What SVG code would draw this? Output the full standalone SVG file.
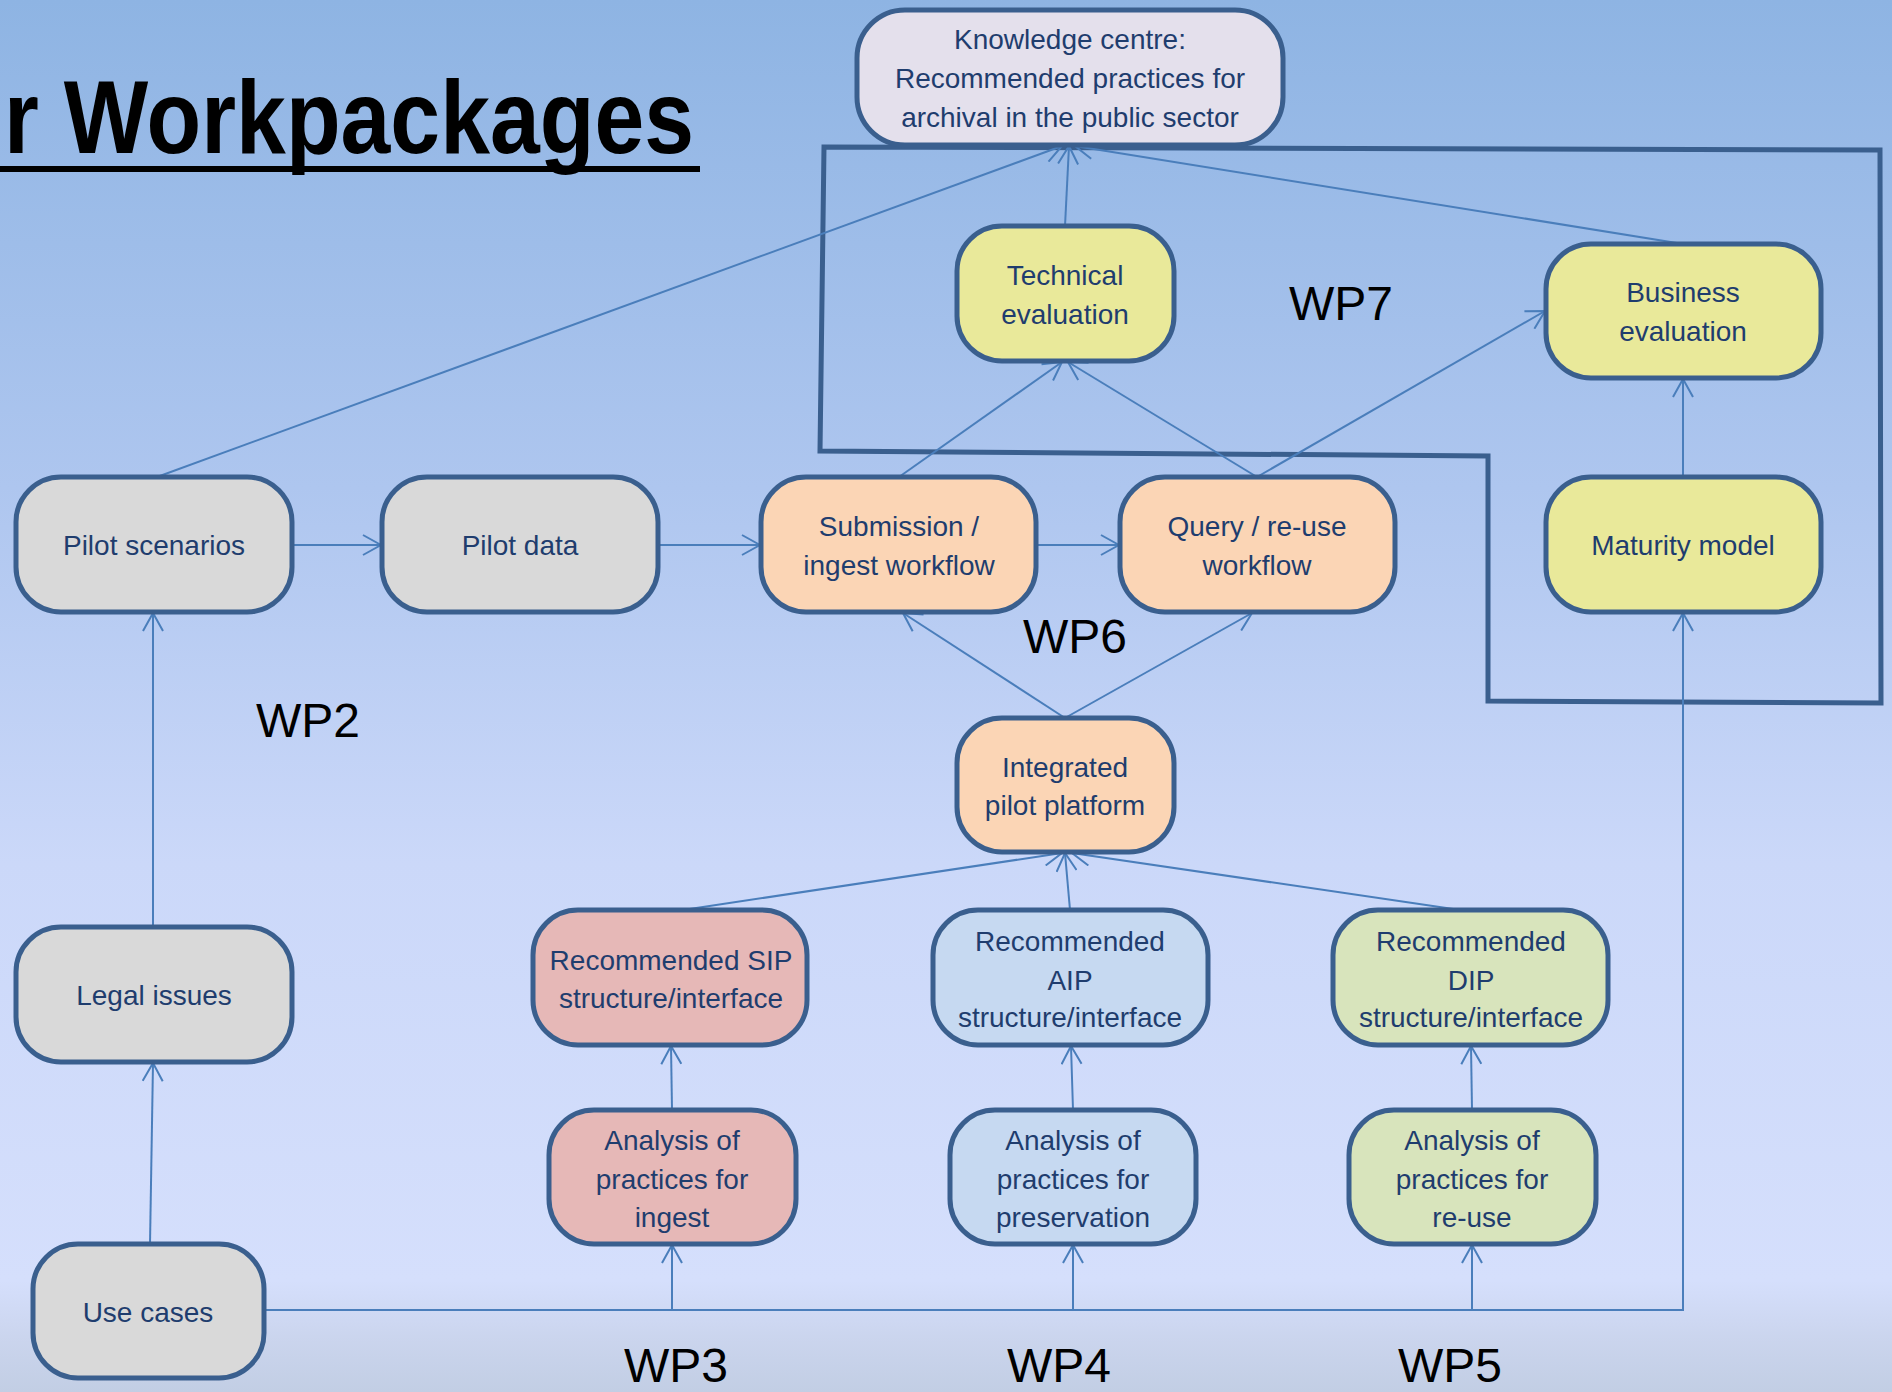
<svg xmlns="http://www.w3.org/2000/svg" width="1892" height="1392" viewBox="0 0 1892 1392">
<defs>
<linearGradient id="bg" x1="0" y1="0" x2="0" y2="1">
<stop offset="0" stop-color="#8eb4e3"/>
<stop offset="0.35" stop-color="#aec6ef"/>
<stop offset="0.62" stop-color="#cbd8f9"/>
<stop offset="0.92" stop-color="#d5dffc"/>
<stop offset="0.96" stop-color="#cbd5ee"/>
<stop offset="1" stop-color="#c2cee4"/>
</linearGradient>
<marker id="arr" markerUnits="userSpaceOnUse" viewBox="0 0 20 22" markerWidth="20" markerHeight="22" refX="19" refY="11" orient="auto">
<path d="M1,1 L19,11 L1,21" fill="none" stroke="#4a7ebb" stroke-width="2"/>
</marker>
</defs>
<style>
.n{stroke:#3a5f8e;stroke-width:5}
.t{font-family:"Liberation Sans",Arial,sans-serif;font-size:28px;fill:#1f3d6e;text-anchor:middle}
.wp{font-family:"Liberation Sans",Arial,sans-serif;font-size:48px;fill:#000}
.c{stroke:#4a7ebb;stroke-width:2;fill:none}
.gray{fill:#d9d9d9}.lav{fill:#e4e0ec}.yel{fill:#e9e99a}.org{fill:#fbd5b5}.red{fill:#e6b8b7}.blu{fill:#c6d9f1}.grn{fill:#d8e4bc}
</style>
<rect x="0" y="0" width="1892" height="1392" fill="url(#bg)"/>
<g id="title">
<text x="4" y="153" font-family="Liberation Sans,Arial,sans-serif" font-weight="bold" font-size="104" fill="#000" textLength="690" lengthAdjust="spacingAndGlyphs">r Workpackages</text>
<rect x="0" y="166" width="700" height="6" fill="#000"/>
</g>
<g id="wp7box">
<path d="M824,147 L1880,150 L1881,703 L1488,701 L1488,456 L820,451 Z" fill="none" stroke="#3a5f8e" stroke-width="5" stroke-linejoin="miter"/>
</g>
<g id="connectors">
<line class="c" x1="157" y1="477" x2="1062" y2="146" marker-end="url(#arr)"/>
<line class="c" x1="1065" y1="226" x2="1069" y2="146" marker-end="url(#arr)"/>
<line class="c" x1="1683" y1="244" x2="1075" y2="146" marker-end="url(#arr)"/>
<line class="c" x1="899" y1="477" x2="1062" y2="362" marker-end="url(#arr)"/>
<line class="c" x1="1257" y1="477" x2="1068" y2="362" marker-end="url(#arr)"/>
<line class="c" x1="1257" y1="477" x2="1545" y2="311" marker-end="url(#arr)"/>
<line class="c" x1="1683" y1="477" x2="1683" y2="379" marker-end="url(#arr)"/>
<line class="c" x1="292" y1="545" x2="381" y2="545" marker-end="url(#arr)"/>
<line class="c" x1="658" y1="545" x2="760" y2="545" marker-end="url(#arr)"/>
<line class="c" x1="1036" y1="545" x2="1119" y2="545" marker-end="url(#arr)"/>
<line class="c" x1="1065" y1="718" x2="903" y2="613" marker-end="url(#arr)"/>
<line class="c" x1="1065" y1="718" x2="1252" y2="613" marker-end="url(#arr)"/>
<line class="c" x1="683" y1="910" x2="1062" y2="853" marker-end="url(#arr)"/>
<line class="c" x1="1070" y1="910" x2="1065" y2="853" marker-end="url(#arr)"/>
<line class="c" x1="1460" y1="910" x2="1072" y2="853" marker-end="url(#arr)"/>
<line class="c" x1="672" y1="1110" x2="671" y2="1046" marker-end="url(#arr)"/>
<line class="c" x1="1073" y1="1110" x2="1071" y2="1046" marker-end="url(#arr)"/>
<line class="c" x1="1472" y1="1110" x2="1471" y2="1046" marker-end="url(#arr)"/>
<line class="c" x1="150" y1="1244" x2="153" y2="1063" marker-end="url(#arr)"/>
<line class="c" x1="153" y1="927" x2="153" y2="613" marker-end="url(#arr)"/>
<path class="c" d="M264,1310 L1683,1310 L1683,613" marker-end="url(#arr)"/>
<line class="c" x1="672" y1="1310" x2="672" y2="1245" marker-end="url(#arr)"/>
<line class="c" x1="1073" y1="1310" x2="1073" y2="1245" marker-end="url(#arr)"/>
<line class="c" x1="1472" y1="1310" x2="1472" y2="1245" marker-end="url(#arr)"/>
</g>
<g id="knowledge">
<rect class="n lav" x="857" y="10" width="426" height="135" rx="48"/>
<text class="t" x="1070" y="49">Knowledge centre:</text>
<text class="t" x="1070" y="88">Recommended practices for</text>
<text class="t" x="1070" y="127">archival in the public sector</text>
</g>
<g id="technical">
<rect class="n yel" x="957" y="226" width="217" height="135" rx="45"/>
<text class="t" x="1065" y="285">Technical</text>
<text class="t" x="1065" y="324">evaluation</text>
</g>
<g id="business">
<rect class="n yel" x="1546" y="244" width="275" height="134" rx="45"/>
<text class="t" x="1683" y="302">Business</text>
<text class="t" x="1683" y="341">evaluation</text>
</g>
<g id="pilotscenarios">
<rect class="n gray" x="16" y="477" width="276" height="135" rx="45"/>
<text class="t" x="154" y="555">Pilot scenarios</text>
</g>
<g id="pilotdata">
<rect class="n gray" x="382" y="477" width="276" height="135" rx="45"/>
<text class="t" x="520" y="555">Pilot data</text>
</g>
<g id="submission">
<rect class="n org" x="761" y="477" width="275" height="135" rx="45"/>
<text class="t" x="899" y="536">Submission /</text>
<text class="t" x="899" y="575">ingest workflow</text>
</g>
<g id="query">
<rect class="n org" x="1120" y="477" width="275" height="135" rx="45"/>
<text class="t" x="1257" y="536">Query / re-use</text>
<text class="t" x="1257" y="575">workflow</text>
</g>
<g id="maturity">
<rect class="n yel" x="1546" y="477" width="275" height="135" rx="45"/>
<text class="t" x="1683" y="555">Maturity model</text>
</g>
<g id="integrated">
<rect class="n org" x="957" y="718" width="217" height="134" rx="45"/>
<text class="t" x="1065" y="777">Integrated</text>
<text class="t" x="1065" y="815">pilot platform</text>
</g>
<g id="legal">
<rect class="n gray" x="16" y="927" width="276" height="135" rx="45"/>
<text class="t" x="154" y="1005">Legal issues</text>
</g>
<g id="sip">
<rect class="n red" x="533" y="910" width="274" height="135" rx="45"/>
<text class="t" x="671" y="970">Recommended SIP</text>
<text class="t" x="671" y="1008">structure/interface</text>
</g>
<g id="aip">
<rect class="n blu" x="933" y="910" width="275" height="135" rx="45"/>
<text class="t" x="1070" y="951">Recommended</text>
<text class="t" x="1070" y="990">AIP</text>
<text class="t" x="1070" y="1027">structure/interface</text>
</g>
<g id="dip">
<rect class="n grn" x="1333" y="910" width="275" height="135" rx="45"/>
<text class="t" x="1471" y="951">Recommended</text>
<text class="t" x="1471" y="990">DIP</text>
<text class="t" x="1471" y="1027">structure/interface</text>
</g>
<g id="ana-ingest">
<rect class="n red" x="549" y="1110" width="247" height="134" rx="45"/>
<text class="t" x="672" y="1150">Analysis of</text>
<text class="t" x="672" y="1189">practices for</text>
<text class="t" x="672" y="1227">ingest</text>
</g>
<g id="ana-pres">
<rect class="n blu" x="950" y="1110" width="246" height="134" rx="45"/>
<text class="t" x="1073" y="1150">Analysis of</text>
<text class="t" x="1073" y="1189">practices for</text>
<text class="t" x="1073" y="1227">preservation</text>
</g>
<g id="ana-reuse">
<rect class="n grn" x="1349" y="1110" width="247" height="134" rx="45"/>
<text class="t" x="1472" y="1150">Analysis of</text>
<text class="t" x="1472" y="1189">practices for</text>
<text class="t" x="1472" y="1227">re-use</text>
</g>
<g id="usecases">
<rect class="n gray" x="33" y="1244" width="231" height="134" rx="45"/>
<text class="t" x="148" y="1322">Use cases</text>
</g>
<g id="labels">
<text class="wp" x="1289" y="320">WP7</text>
<text class="wp" x="1023" y="653">WP6</text>
<text class="wp" x="256" y="737">WP2</text>
<text class="wp" x="624" y="1382">WP3</text>
<text class="wp" x="1007" y="1382">WP4</text>
<text class="wp" x="1398" y="1382">WP5</text>
</g>
</svg>
